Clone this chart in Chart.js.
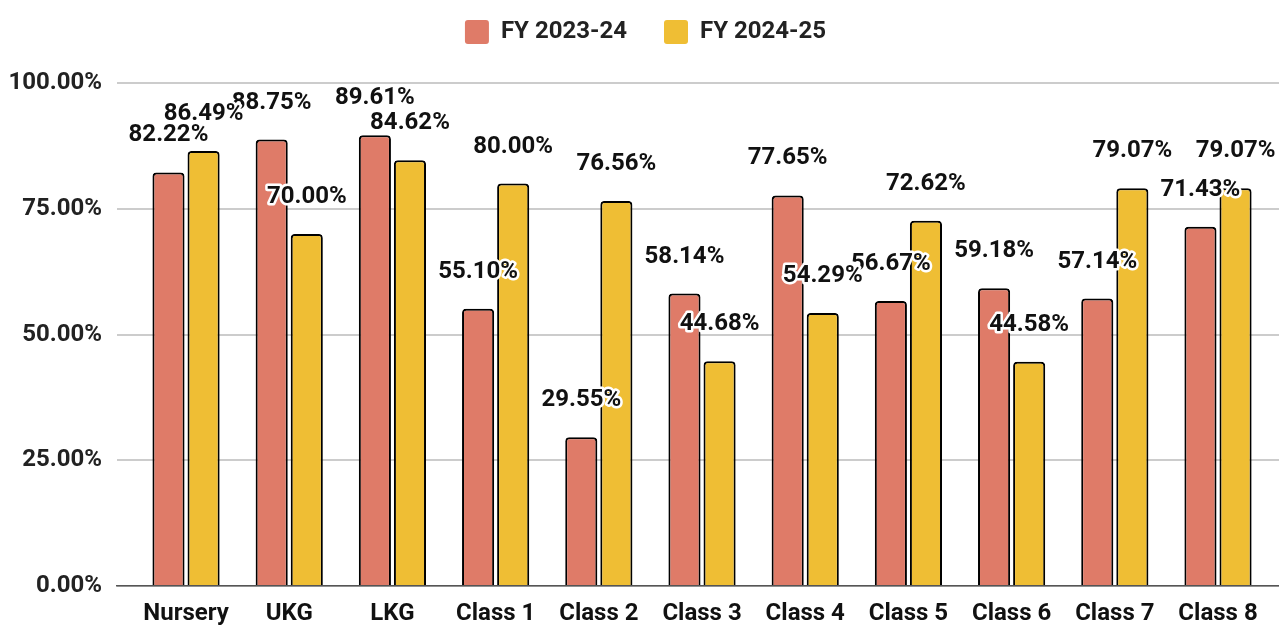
<!DOCTYPE html>
<html>
<head>
<meta charset="utf-8">
<script src="https://cdn.jsdelivr.net/npm/chart.js@4"></script>
<style>
  html, body { margin: 0; padding: 0; background: #fff; }
  #wrap { width: 1279px; height: 625px; }
</style>
</head>
<body>
<div id="wrap"><canvas id="passChart" width="1279" height="625"></canvas></div>
<script>
// categories and series
var classes = ['Nursery', 'UKG', 'LKG', 'Class 1', 'Class 2', 'Class 3', 'Class 4', 'Class 5', 'Class 6', 'Class 7', 'Class 8']
var fy2324 = [82.22, 88.75, 89.61, 55.10, 29.55, 58.14, 77.65, 56.67, 59.18, 57.14, 71.43]
var fy2425 = [86.49, 70.00, 84.62, 80.00, 76.56, 44.68, 54.29, 72.62, 44.58, 79.07, 79.07]
var yTicks = [0, 25, 50, 75, 100]

var FONT = 'Roboto, "Noto Sans", sans-serif'

// value labels above each bar, white halo like the original
var valueLabels = {
    id: 'valueLabels',
    afterDatasetsDraw: function (chart) {
        var ctx = chart.ctx
        ctx.save()
        ctx.font = 'bold 24px ' + FONT
        ctx.textAlign = 'center'
        ctx.textBaseline = 'middle'
        ctx.lineJoin = 'round'
        chart.data.datasets.forEach(function (ds, i) {
            chart.getDatasetMeta(i).data.forEach(function (bar, j) {
                var txt = ds.data[j].toFixed(2) + '%'
                var y = bar.y - 37
                ctx.lineWidth = 5
                ctx.strokeStyle = '#fff'
                ctx.strokeText(txt, bar.x, y)
                ctx.fillStyle = '#111'
                ctx.fillText(txt, bar.x, y)
            })
        })
        ctx.restore()
    }
}

// legend takes the whole band above the plot, drawn near the top
var legendBand = {
    id: 'legendBand',
    beforeInit: function (chart) {
        var lg = chart.legend
        var origFit = lg.fit
        lg.fit = function () {
            origFit.call(this)
            this.height = 83
        }
        var origDraw = lg.draw
        lg.draw = function () {
            var ctx = this.ctx
            ctx.save()
            ctx.translate(6, -17)
            origDraw.call(this)
            ctx.restore()
        }
    }
}

var data = {
    labels: classes,
    datasets: [
        {
            label: 'FY 2023-24',
            data: fy2324,
            backgroundColor: '#DF7B68',
            borderColor: '#000',
            borderWidth: 2,
            borderRadius: 4,
            borderSkipped: 'bottom',
        },
        {
            label: 'FY 2024-25',
            data: fy2425,
            backgroundColor: '#EFBE34',
            borderColor: '#000',
            borderWidth: 2,
            borderRadius: 4,
            borderSkipped: 'bottom',
        }
    ]
}

var config = {
    type: 'bar',
    data: data,
    plugins: [valueLabels, legendBand],
    options: {
        responsive: false,
        animation: false,
        layout: { padding: 0 },
        categoryPercentage: 0.68,
        barPercentage: 0.915,
        plugins: {
            tooltip: { enabled: false },
            legend: {
                position: 'top',
                labels: {
                    font: { family: FONT, size: 24, weight: 'bold' },
                    color: '#222',
                    boxWidth: 24,
                    boxHeight: 24,
                    padding: 37,
                    useBorderRadius: true,
                    borderRadius: 3,
                    generateLabels: function (chart) {
                        var items = Chart.defaults.plugins.legend.labels.generateLabels(chart)
                        items.forEach(function (it) { it.lineWidth = 0; it.strokeStyle = 'rgba(0,0,0,0)' })
                        return items
                    }
                }
            }
        },
        scales: {
            x: {
                offset: true,
                grid: { display: false, drawTicks: false },
                border: { display: true, color: '#555', width: 1.5 },
                ticks: {
                    color: '#111',
                    padding: 14,
                    maxRotation: 0,
                    autoSkip: false,
                    font: { family: FONT, size: 24, weight: 'bold' }
                },
                afterFit: function (scale) { scale.height = 39 },
                afterBuildTicks: function (scale) {
                    // widen the category range so the plot has side margins
                    scale._startValue = -0.669
                    scale._valueRange = 11.26
                }
            },
            y: {
                min: 0,
                max: 100,
                afterBuildTicks: function (scale) {
                    scale.ticks = yTicks.map(function (v) { return { value: v } })
                },
                grid: { color: '#cccccc', lineWidth: 2, drawTicks: false },
                border: { display: false },
                ticks: {
                    color: '#222',
                    padding: 15,
                    font: { family: FONT, size: 24, weight: 'bold' },
                    callback: function (v) { return v.toFixed(2) + '%' }
                },
                afterFit: function (scale) { scale.width = 117 }
            }
        }
    }
}

var canvas = document.getElementById('passChart')
var chart = new Chart(canvas, config)
</script>
</body>
</html>
